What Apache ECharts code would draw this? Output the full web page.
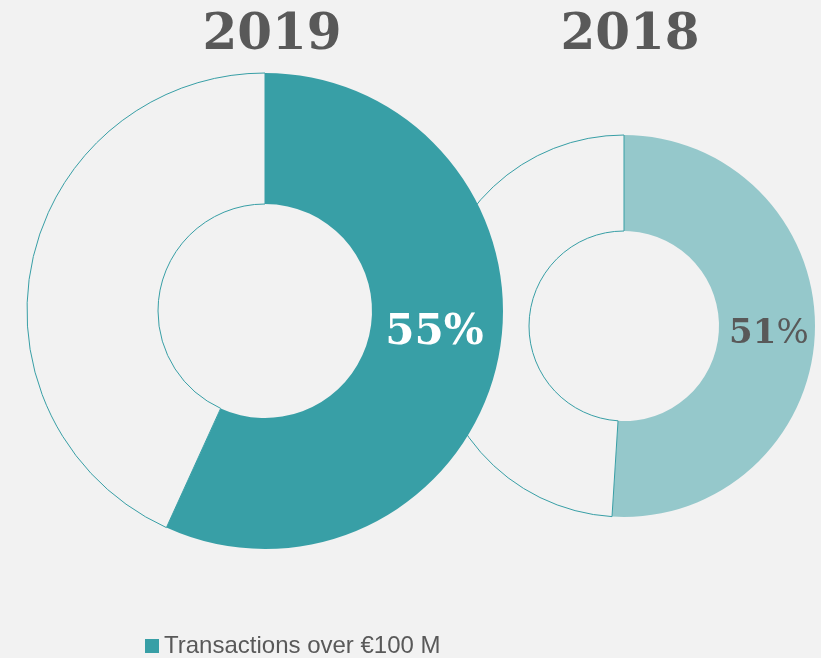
<!DOCTYPE html>
<html>
<head>
<meta charset="utf-8">
<script src="https://cdn.jsdelivr.net/npm/echarts@6/dist/echarts.min.js"></script>
<style>
  html, body { margin: 0; padding: 0; background: #f2f2f2; }
  #chart { width: 821px; height: 658px; }
</style>
</head>
<body>
<div id="chart"></div>
<script>
// data
const years = ['2019', '2018']
// slice sizes as drawn (the 2019 slice is drawn a bit past its printed 55%)
const shareOver100 = [56.8, 51]
const shareLabels = ['55', '51']
const legendName = 'Transactions over €100 M'
const restName = 'Other'

const teal = '#389fa6'
const lightTeal = '#95c8cb'
const grey = '#595959'
const serif = 'DejaVu Serif'

const chart = echarts.init(document.getElementById('chart'))

function slices (i, color) {
  return [
    {
      name: legendName,
      value: shareOver100[i],
      itemStyle: { color: color, borderWidth: 0 }
    },
    {
      name: restName,
      value: 100 - shareOver100[i],
      itemStyle: { color: '#f2f2f2', borderColor: teal, borderWidth: 1 },
      label: { show: false }
    }
  ]
}

const titleStyle = { fontFamily: serif, fontWeight: 'bold', fontSize: 50, color: grey }

const option = {
  backgroundColor: '#f2f2f2',
  animation: false,
  title: [
    { text: years[0], left: 272, top: 11, padding: 0, textAlign: 'center', textStyle: titleStyle },
    { text: years[1], left: 630, top: 11, padding: 0, textAlign: 'center', textStyle: titleStyle }
  ],
  legend: {
    data: [legendName],
    left: 145,
    top: 634,
    padding: 0,
    icon: 'rect',
    itemWidth: 14,
    itemHeight: 14,
    selectedMode: false,
    textStyle: { fontFamily: 'Liberation Sans', fontSize: 24, color: grey }
  },
  series: [
    {
      name: years[0],
      type: 'pie',
      z: 3,
      center: [265, 311],
      radius: [107, 238],
      startAngle: 90,
      silent: true,
      emphasis: { disabled: true },
      labelLine: { show: false },
      label: {
        show: true,
        position: 'inside',
        offset: [-2, -15],
        formatter: () => shareLabels[0] + '%',
        fontFamily: serif,
        fontWeight: 'bold',
        fontSize: 42,
        color: '#ffffff'
      },
      data: slices(0, teal)
    },
    {
      name: years[1],
      type: 'pie',
      z: 2,
      center: [624, 326],
      radius: [95, 191],
      startAngle: 90,
      silent: true,
      emphasis: { disabled: true },
      labelLine: { show: false },
      label: {
        show: true,
        position: 'inside',
        offset: [-1, 4],
        formatter: () => '{b|' + shareLabels[1] + '}{n|%}',
        rich: {
          b: { fontFamily: serif, fontWeight: 'bold', fontSize: 34, color: grey },
          n: { fontFamily: serif, fontSize: 34, color: grey }
        }
      },
      data: slices(1, lightTeal)
    }
  ]
}

chart.setOption(option)
</script>
</body>
</html>
